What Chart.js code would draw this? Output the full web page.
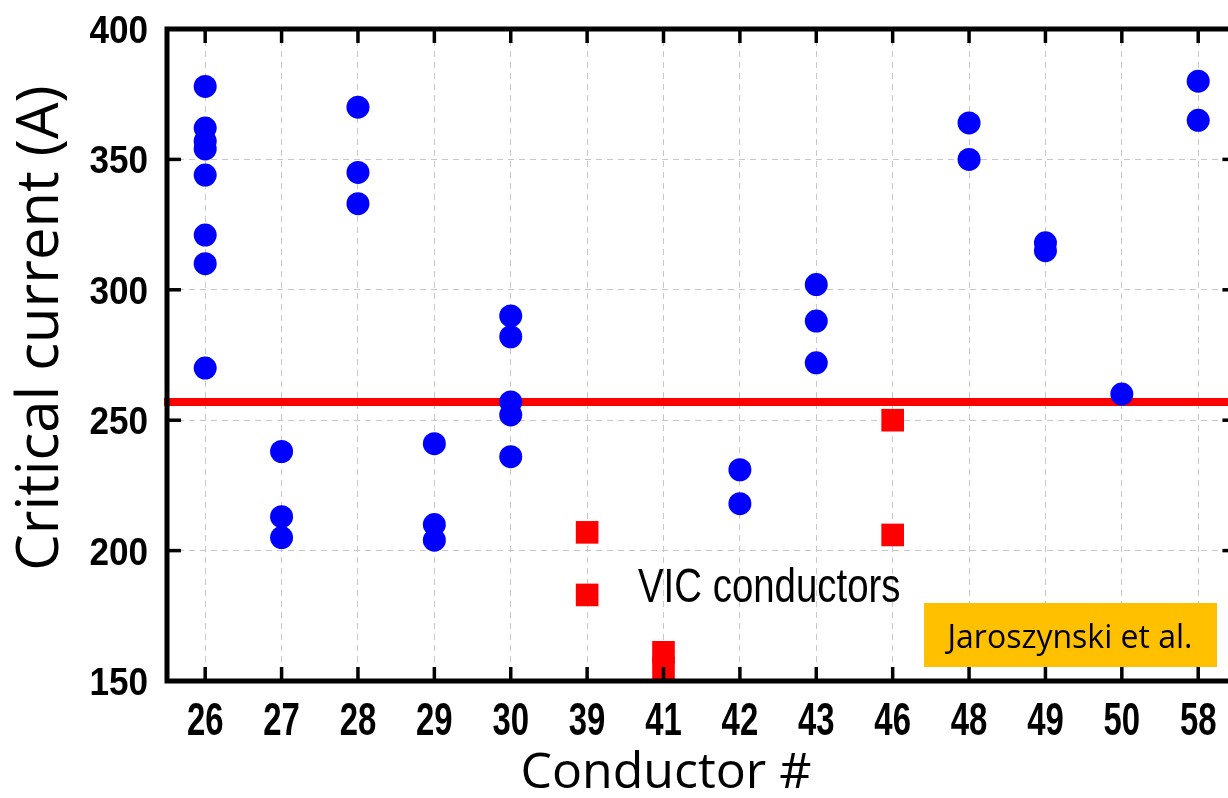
<!DOCTYPE html>
<html><head><meta charset="utf-8">
<style>
html,body{margin:0;padding:0;background:#fff;overflow:hidden;width:1228px;height:798px}
#wrap{position:relative;width:1228px;height:798px}
</style>
<script src="https://cdn.jsdelivr.net/npm/chart.js@4.4.0/dist/chart.umd.min.js"></script>
</head><body>
<div id="wrap"><canvas id="c" width="1228" height="798"></canvas></div>
<script>
const categories = ['26','27','28','29','30','39','41','42','43','46','48','49','50','58'];
const yTicks = [150,200,250,300,350,400];
const stdConductor = ['26','26','26','26','26','26','26','26','27','27','27','28','28','28','29','29','29','30','30','30','30','30','42','42','43','43','43','48','48','49','49','50','58','58'];
const stdIc = [378,362,357,354,344,321,310,270,238,213,205,370,345,333,241,210,204,290,282,257,252,236,231,218,302,288,272,364,350,318,315,260,380,365];
const vicConductor = ['39','39','41','41','46','46'];
const vicIc = [207,183,161,155,250,206];
const thresholdIc = [257];
const vicLabel = 'VIC conductors';
const sourceNote = 'Jaroszynski et al.';
const xTitle = 'Conductor #';
const yTitle = 'Critical current (A)';

const catIndex = c => categories.indexOf(c);

function squeezedText(ctx, text, x, y, sx, align) {
  ctx.save();
  ctx.translate(x, y);
  ctx.scale(sx, 1);
  ctx.textAlign = align;
  ctx.fillText(text, 0, 0);
  ctx.restore();
}

const decor = {
  id: 'decor',
  beforeDatasetsDraw(chart) {
    const {ctx, chartArea: a, scales: {y}} = chart;
    ctx.save();
    ctx.strokeStyle = '#ff0000';
    ctx.lineWidth = 8;
    thresholdIc.forEach(v => {
      const py = y.getPixelForValue(v);
      ctx.beginPath(); ctx.moveTo(a.left - 3, py); ctx.lineTo(a.right + 2, py); ctx.stroke();
    });
    ctx.restore();
  },
  afterDraw(chart) {
    const {ctx, chartArea: a, scales: {x, y}} = chart;
    const frameRight = x.getPixelForValue(categories.length - 0.5);
    ctx.save();
    // frame
    ctx.strokeStyle = '#000'; ctx.lineWidth = 5;
    ctx.strokeRect(a.left, a.top, frameRight - a.left, a.bottom - a.top);
    // inward ticks
    ctx.lineWidth = 3.5; ctx.lineCap = 'butt';
    const L = 14;
    categories.forEach((c, i) => {
      const px = x.getPixelForValue(i);
      ctx.beginPath(); ctx.moveTo(px, a.bottom); ctx.lineTo(px, a.bottom - L); ctx.stroke();
      ctx.beginPath(); ctx.moveTo(px, a.top); ctx.lineTo(px, a.top + L); ctx.stroke();
    });
    yTicks.forEach(v => {
      const py = y.getPixelForValue(v);
      ctx.beginPath(); ctx.moveTo(a.left, py); ctx.lineTo(a.left + L, py); ctx.stroke();
      ctx.beginPath(); ctx.moveTo(frameRight, py); ctx.lineTo(frameRight - L, py); ctx.stroke();
    });
    // tick labels (condensed bold)
    ctx.fillStyle = '#000';
    ctx.textBaseline = 'alphabetic';
    ctx.font = 'bold 47px "Liberation Sans"';
    categories.forEach((c, i) => {
      squeezedText(ctx, c, x.getPixelForValue(i), 735, 0.70, 'center');
    });
    ctx.font = 'bold 39px "Liberation Sans"';
    yTicks.forEach(v => {
      squeezedText(ctx, String(v), a.left - 19, y.getPixelForValue(v) + 14, 0.9, 'right');
    });
    // VIC label
    ctx.font = '48px "Liberation Sans"';
    squeezedText(ctx, vicLabel, 638, 602, 0.80, 'left');
    // source box
    ctx.fillStyle = '#FFC000';
    ctx.fillRect(924, 603, 293, 64);
    ctx.fillStyle = '#000';
    ctx.font = '32px "Open Sans"';
    ctx.textAlign = 'center';
    ctx.fillText(sourceNote, 1070, 648);
    // axis titles
    ctx.font = '50px "Open Sans"';
    ctx.fillText(xTitle, 666, 788);
    ctx.translate(58, 328); ctx.rotate(-Math.PI / 2);
    ctx.font = '58px "Open Sans"';
    ctx.fillText(yTitle, 0, 0);
    ctx.restore();
  }
};

new Chart(document.getElementById('c'), {
  type: 'scatter',
  data: {
    datasets: [
      {
        label: 'Conductors',
        data: stdConductor.map((c, i) => ({x: catIndex(c), y: stdIc[i]})),
        backgroundColor: '#0000ff', borderWidth: 0,
        pointStyle: 'circle', pointRadius: 11.5, pointHoverRadius: 11.5
      },
      {
        label: vicLabel,
        data: vicConductor.map((c, i) => ({x: catIndex(c), y: vicIc[i]})),
        backgroundColor: '#ff0000', borderWidth: 0,
        pointStyle: 'rect', pointRadius: 16, pointHoverRadius: 16
      }
    ]
  },
  options: {
    responsive: false, animation: false, devicePixelRatio: 1,
    layout: {autoPadding: false, padding: {left: 0, top: 29, right: 0, bottom: 0}},
    plugins: {legend: {display: false}, tooltip: {enabled: false}},
    scales: {
      x: {
        type: 'linear', min: -0.5, max: 13.39,
        afterBuildTicks: s => { s.ticks = categories.map((c, i) => ({value: i})); },
        grid: {color: '#c8c8c8', lineWidth: 1, drawTicks: false},
        border: {display: false, dash: [6, 5]},
        ticks: {display: false},
        afterFit: s => { s.height = 117; }
      },
      y: {
        type: 'linear', min: 150, max: 400,
        afterBuildTicks: s => { s.ticks = yTicks.map(v => ({value: v})); },
        grid: {color: '#c8c8c8', lineWidth: 1, drawTicks: false},
        border: {display: false, dash: [6, 5]},
        ticks: {display: false},
        afterFit: s => { s.width = 167; }
      }
    }
  },
  plugins: [decor]
});
</script>
</body></html>
